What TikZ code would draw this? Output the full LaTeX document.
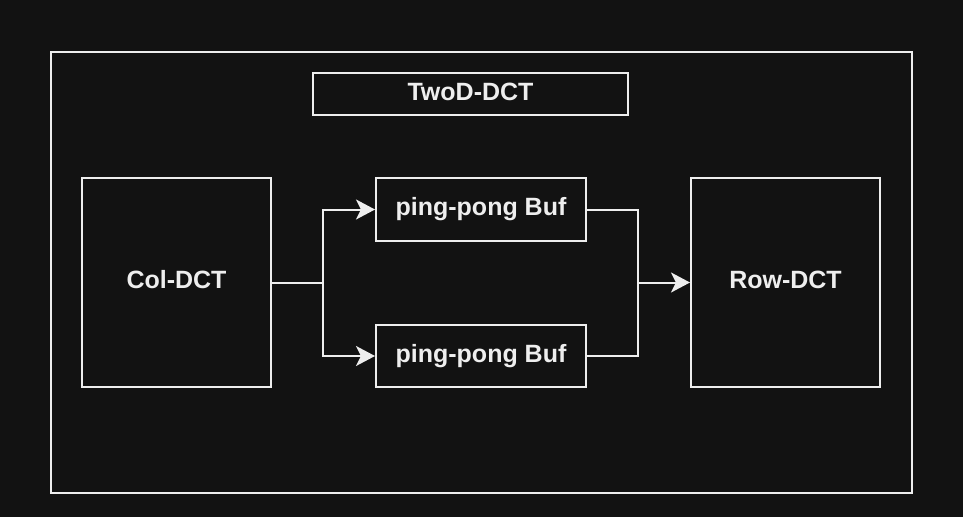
\documentclass[tikz,border=0pt]{standalone}
\usepackage{fontspec}
\setmainfont{Liberation Sans}
\usepackage{tikz}
\usetikzlibrary{arrows.meta}
\tikzset{>=Stealth}
\usetikzlibrary{positioning}
\definecolor{bgdark}{HTML}{121212}
\definecolor{linelight}{HTML}{EEEEEE}
\tikzset{
    block/.style={draw=linelight, line width=2pt, inner sep=0pt, text=linelight,
        text height=18pt, text depth=6pt,
        font=\fontsize{25}{30}\selectfont\bfseries},
    wire/.style={draw=linelight, line width=2pt},
    tip/.style={-{Stealth[length=19pt, width=20pt, inset=5pt]}}
}

\begin{document}
\begin{tikzpicture}[x=1pt, y=-1pt]
    \useasboundingbox (0,0) rectangle (963,517);
    \fill[bgdark] (0,0) rectangle (963,517);
    \node[block, minimum width=861pt, minimum height=441pt] at (481.5,272.5) (outer) {};
    \node[block, minimum width=315pt, minimum height=42pt] at (470.5,94) (title) {TwoD-DCT};
    \node[block, minimum width=189pt, minimum height=209pt] at (176.5,282.5) (coldct) {Col-DCT};
    \node[block, minimum width=210pt, minimum height=63pt] at (481,209.5) (bufA) {ping-pong Buf};
    \node[block, minimum width=210pt, minimum height=62pt] at (481,356) (bufB) {ping-pong Buf};
    \node[block, minimum width=189pt, minimum height=209pt] at (785.5,282.5) (rowdct) {Row-DCT};
    \coordinate (split) at (323,282.5);
    \coordinate (merge) at (638,282.5);
    \draw[wire, tip] (coldct.east) -- (split) |- (bufA.west);
    \draw[wire, tip] (split) |- (bufB.west);
    \draw[wire] (bufA.east) -| (merge);
    \draw[wire] (bufB.east) -| (merge);
    \draw[wire, tip] (merge) -- (rowdct.west);
\end{tikzpicture}
\end{document}
